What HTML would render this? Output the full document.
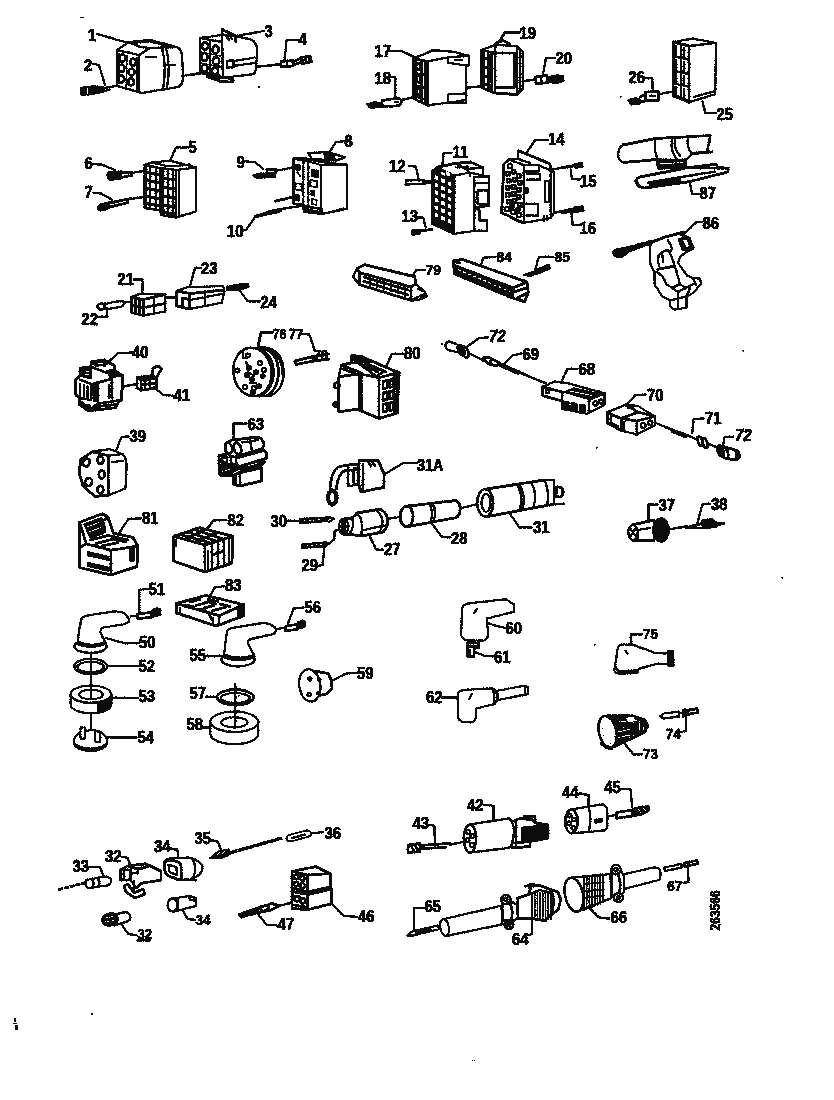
<!DOCTYPE html>
<html><head><meta charset="utf-8"><title>Connectors</title>
<style>
html,body{margin:0;padding:0;background:#fff;}
body{width:834px;height:1100px;overflow:hidden;font-family:"Liberation Sans",sans-serif;}
svg{display:block;position:absolute;left:0;top:0;}
svg text{font-family:"Liberation Sans",sans-serif;font-size:16.5px;font-weight:bold;fill:#111;stroke:#111;stroke-width:0.6;}

.s{fill:none;stroke:#111;stroke-width:2.1;stroke-linejoin:round;stroke-linecap:round;}
.t{fill:none;stroke:#111;stroke-width:1.2;stroke-linejoin:round;stroke-linecap:round;}
.h{fill:none;stroke:#111;stroke-width:2.5;stroke-linejoin:round;stroke-linecap:round;}
.w{fill:#fff;stroke:#111;stroke-width:2.05;stroke-linejoin:round;stroke-linecap:round;}
.k{fill:#111;stroke:#111;stroke-width:1;stroke-linejoin:round;}
.g{fill:#777;stroke:#111;stroke-width:1;}
</style></head><body>
<svg width="834" height="1100" viewBox="0 0 834 1100">
<g filter="url(#bl)">
<rect x="0" y="0" width="834" height="1100" fill="#fff"/>
<!-- 01.svg -->
<g id="p1">
<text transform="translate(88,40.5) scale(0.9,1)">1</text>
<path class="s" d="M97 34 L132 44"/>
<!-- body -->
<path class="w" d="M117 50 L129 42 L150 40 L177 47 Q182 50 182 56 L183 78 Q182 86 178 87 L142 93 L117 86 Z"/>
<path class="s" d="M117 50 L139 55 L139 92 M139 55 L150 48 L177 47 M129 42 L140 47 L150 48 M162 48 Q167 66 163 89 M166 48 Q171 66 167 88 M146 57 L156 57 M166 65 L175 65"/>
<path class="h" d="M130 43 L150 41 L172 47"/>
<!-- holes -->
<g class="h"><ellipse cx="122.5" cy="58" rx="3" ry="3.6"/><ellipse cx="133" cy="62" rx="3" ry="3.6"/><ellipse cx="121.5" cy="68" rx="3" ry="3.6"/><ellipse cx="131.5" cy="72" rx="3" ry="3.6"/><ellipse cx="121" cy="79" rx="3.2" ry="3.6"/><ellipse cx="131" cy="82" rx="3" ry="3.4"/></g>
<path class="t" d="M119 53 L119 84 M127 55 L126 88 M137 57 L137 90"/>
<!-- terminal 2 -->
<text transform="translate(84,71) scale(0.9,1)">2</text>
<path class="s" d="M93 64 L99 65 L105 85"/>
<path class="k" d="M80.500 87.500 L92 86 L104 86.500 L104.500 91.500 L92 94.500 L81 95.500 Z"/>
<path d="M84 88 L84 94.500 M87.500 87.500 L87.500 94 M91 87.500 L91 93.500" stroke="#fff" stroke-width="0.900" fill="none"/>
<path class="s" d="M104 88 L117 86 M100 92.500 L110 89.500"/>
<path class="s" d="M182 76 L200 73"/>
</g>

<!-- 03.svg -->
<g id="p3">
<text transform="translate(264.5,36.5) scale(0.9,1)">3</text>
<path class="s" d="M264 31 L236 36"/>
<path class="w" d="M200 38 L222 35 L236 36 L252 40 Q257 43 257 50 L256 70 L254 74 L222 78 L200 73 Z"/>
<path class="h" d="M222 29.5 L235 35.5 L236 42 M222 29.5 L222 35"/>
<path class="s" d="M226 36 L229 40 M229 34 L232 39"/>
<path class="s" d="M222 35 L223 78 M200 38 L222 42"/>
<g class="h"><ellipse cx="205" cy="46" rx="3" ry="4"/><ellipse cx="215.5" cy="49.5" rx="3" ry="4"/><ellipse cx="204.5" cy="57" rx="3" ry="4"/><ellipse cx="216" cy="61" rx="3.2" ry="4"/><ellipse cx="204.5" cy="68" rx="3" ry="3.6"/><ellipse cx="215" cy="71" rx="3" ry="3.6"/></g>
<path class="t" d="M210 40 L210 75 M201 52 L221 56 M201 63 L221 67"/>
<path class="h" d="M202 72 L220 76 M214 66 L221 67"/>
<path class="h" d="M227 61 L233.5 60.5 L233.5 67 L227 67.5 Z"/>
<path class="s" d="M233.5 61.3 L254 57.5 M233.5 66 L254 63"/>
<path class="h" d="M207 76.5 L233 78.5 L233 82 L221 81.5 Z"/>
<path class="s" d="M190 75.3 L200 73.8 M257 66.8 L280 64.4"/>
<!-- terminal 4 -->
<text transform="translate(298.5,45) scale(0.9,1)">4</text>
<path class="s" d="M299 40 L286.6 40 L284.3 62"/>
<path class="h" d="M281 61.5 L293 60.5 L293 66 L281 67 Z"/>
<path class="s" d="M287 61 L287 66.5"/>
<path class="h" d="M293 62 L301 58 M293 65 L302 62"/>
<path class="k" d="M300 57 L311 55.5 L312.5 62.5 L301 64.5 Z"/>
<path d="M304 58 L304 62 M307.5 57.5 L307.5 61.5" stroke="#fff" stroke-width="1" fill="none"/>
</g>

<!-- 05.svg -->
<g id="p5">
<text transform="translate(188.5,153) scale(0.9,1)">5</text>
<path class="s" d="M188.5 147.5 L176 147.5 L170 160.5"/>
<path class="w" d="M144.5 165 L152 162.5 L170 160.8 L196 167.5 L196 211.5 L176 217.5 L161 215 L160.5 210.5 L144.5 208 Z"/>
<path class="s" d="M144.5 165 L160.5 168 L176 170 L196 167.5 M176 170 L176 217.5 M160.5 168 L160.5 211 M152 162.5 L165 165.5 L176 166 L190 164.5 M165 165.5 L165 168.5"/>
<path class="h" d="M146 166 L146 207 M150 167 L150 208 M156 168 L156 210 M163 169 L163 214 M168 170 L168 216 M173 170 L173 217"/>
<path class="h" d="M145 172 L160 175 M145 180 L160 183 M145 188 L160 191 M145 196 L160 199 M145 203 L160 206 M161 178 L176 180 M161 187 L176 189 M161 196 L176 198 M161 205 L176 207 M161 212 L176 214"/>
<path class="s" d="M179 172 L179 215"/>
<!-- 6 -->
<text transform="translate(84.5,168.5) scale(0.9,1)">6</text>
<path class="s" d="M93.4 163.8 L101 164.6 L115 170"/>
<path class="k" d="M107 174 Q107 171.500 112 171.500 L121.500 171 L121.500 179 L110 180.500 Q107 180 107 176 Z"/>
<path class="h" d="M121 173 L132 172 M121 177.5 L132 175.5"/>
<path class="s" d="M132 173 L144.500 170.800"/>
<!-- 7 -->
<text transform="translate(84.5,198) scale(0.9,1)">7</text>
<path class="s" d="M93.4 192.700 L101 193.500 L112 199.700"/>
<path class="k" d="M97 207 Q98 204 103 203.500 L109 202 L110 208 L102 211 Q97 211.500 97 207 Z"/>
<path class="h" d="M109 203 L131 198.500 M110 207 L128 202.500"/>
<path class="s" d="M131 199 L144.500 196.600"/>
</g>

<!-- 08.svg -->
<g id="p8">
<text transform="translate(344.5,147) scale(0.9,1)">8</text>
<path class="s" d="M345 141.300 L335.600 142 L329.500 152.600"/>
<path class="w" d="M293.500 158.500 L303.400 158 L321 162 L347 164.700 L347 208.700 L322 214 L304 212 L303.400 205 L293.500 203.500 Z"/>
<path class="s" style="stroke-width:1.800" d="M293.500 158.500 L293.500 203.500 L303.400 205 M303.400 160 L303.400 206 M308.400 161 L308.400 210 M321 165 L321 213 M293.500 158.500 L308 161.500 L321 165 L347 164.700 L347 208.700 L322 214"/>
<path class="h" d="M308 153 L328 152 L345 157.500 L336 160.500 L312 159 Z" style="stroke-width:2.200"/>
<path class="k" d="M324 152 L333 153.500 L336 160.500 L325 161 Z"/>
<path class="k" d="M294.500 164 L300 165 L300 170.500 L294.500 169.500 Z M294 194 L299.500 195 L299.500 201 L294 200 Z M311.500 169.500 L318.500 170.500 L318.500 177.500 L311.500 176.500 Z M311 190 L314.700 190.800 L314.700 196 L311 195.200 Z"/>
<path class="s" style="stroke-width:1.600" d="M295.500 183 L301.500 184 L301.500 190.500 L295.500 189.500 Z M310.600 180 L317 181 L317 187.200 L310.600 186.200 Z M312 199 L316.500 200 L316.500 205 L312 204 Z M297 172 L300 176"/>
<path class="k" d="M303.500 205.500 L322.500 208.500 L322.500 214 L304 212 Z"/>
<path d="M309 208.800 L319 210.200" stroke="#fff" stroke-width="1" fill="none"/>
<path class="s" d="M334 211.500 L344 208.500"/>
<!-- 9 -->
<text transform="translate(236.500,167.500) scale(0.9,1)">9</text>
<path class="s" d="M245.200 161.300 L254.800 162.200 L263.500 169"/>
<path class="k" d="M252.500 175 L260 173 L275.500 173.500 L275.500 177 L256 178.500 Z"/>
<path class="h" d="M267 169.500 L275.500 169 L275.500 173 L267 173.500 Z"/>
<path class="s" d="M275.500 171 L293 167.400"/>
<!-- mid wire -->
<path class="h" d="M275.600 201.300 L293 197"/>
<!-- 10 -->
<text transform="translate(227,237) scale(0.9,1)">10</text>
<path class="s" d="M241.700 230.800 L246 230 L255.600 216"/>
<path class="s" d="M255.600 216 L270 212 M281 209 L303.400 205.600"/>
<path class="k" d="M266 211.500 L281 208.500 L282 211.500 L268 215 Z"/>
<path class="h" d="M257 216.500 L268 213.500"/>
</g>

<!-- 11.svg -->
<g id="p11">
<text transform="translate(452.5,157.700) scale(0.9,1)">11</text>
<path class="s" d="M451.700 152.700 L443.500 153.300 L442.200 167"/>
<path class="w" d="M432 171 L438 167 L455.400 163.400 L470.500 162 L483 167.800 L483 176 L489 176.600 L489 205.500 L474.300 208 L479.400 210.600 L479.400 220.600 L487 220.600 L487 230.700 L474.300 230.700 L454 234 L432 223.500 Z"/>
<path class="k" d="M432 171 L438 167 L444 170 L455 175.500 L454.500 233.500 L432 223.500 Z"/>
<g fill="#fff" stroke="none">
<path d="M434.500 175 l4 1.500 v4 l-4 -1.500z M441 178 l4 1.500 v4 l-4 -1.500z M447.500 181 l4 1.500 v4 l-4 -1.500z"/>
<path d="M434.500 182.500 l4 1.500 v4 l-4 -1.500z M441 185.500 l4 1.500 v4 l-4 -1.500z M447.500 188.500 l4 1.500 v4 l-4 -1.500z"/>
<path d="M434.500 190 l4 1.500 v4 l-4 -1.500z M441 193 l4 1.500 v4 l-4 -1.500z M447.500 196 l4 1.500 v4 l-4 -1.500z"/>
<path d="M434.500 197.500 l4 1.500 v4 l-4 -1.500z M441 200.500 l4 1.500 v4 l-4 -1.500z M447.500 203.500 l4 1.500 v4 l-4 -1.500z"/>
<path d="M434.500 205 l4 1.500 v4 l-4 -1.500z M441 208 l4 1.500 v4 l-4 -1.500z M447.500 211 l4 1.500 v4 l-4 -1.500z"/>
<path d="M434.500 212.500 l4 1.500 v4 l-4 -1.500z M441 215.500 l4 1.500 v4 l-4 -1.500z M447.500 218.500 l4 1.500 v4 l-4 -1.500z"/>
<path d="M441 171.500 l4 1.500 v3 l-4 -1.500z M446 171 l4 2 v3.500 l-4 -1.500z"/>
</g>
<path class="s" d="M455 175.500 L470 172.500 L483 175.500 M455.400 163.400 L466 169 L470 172.500 M466 169 L483 167.800 M470 172.500 L470 176 M456 167.500 L468 166.500 M474.300 177 L474.300 230.700 M474.300 177 L489 176.600 M477.500 190.400 L488 190.400 L488 204.300 L477.500 204.300 Z M475 183 L489 183"/>
<path class="h" d="M438 167 L455.400 163.400 L470.500 162 M474.300 208 L489 205.500 M479.400 210.600 L479.400 220.600 L487 220.600"/>
<!-- 12 -->
<text transform="translate(389,171.500) scale(0.9,1)">12</text>
<path class="s" d="M409.500 165.900 L415.800 166.500 L419 180.400"/>
<path class="s" d="M405.700 180.400 L420 180 L432 181.500 M405.700 184.500 L420 184 L432 182.500 M405.700 180.400 L405.700 184.500"/>
<!-- 13 -->
<text transform="translate(401.500,222) scale(0.9,1)">13</text>
<path class="s" d="M416.400 217.500 L423.300 217.500 L425.800 227.600"/>
<path class="k" d="M412 230 L420 229.500 L420 234.500 L412 235 Z"/>
<path class="h" d="M420 231 L432 229.500"/>
</g>

<!-- 14.svg -->
<g id="p14">
<text transform="translate(548,145) scale(0.9,1)">14</text>
<path class="s" d="M548.600 139.700 L535.500 139.700 L526.500 152.800"/>
<path class="w" d="M503.800 164.500 L509 159.500 L518 159 L518.300 150.700 L550 163.800 L550.700 171.400 L554 171.400 L554 212.700 L550.700 218 L523 223 L501.700 212.700 Z"/>
<path class="h" d="M518.300 150.700 L550 163.800 L550.700 171.400"/>
<path class="s" d="M523.800 165 L523.800 223 M509 159.500 L523.800 165 M523.800 165 L539 165 L539 171.400 L523.800 171.400 M527 174 L540 174 L540 179.600 L527 179.600 M545 181 L549.300 181 L549.300 201.700 L545 201.700 Z M525.900 203.800 L538 203.800 L538 215.500 L525.900 215.500 M543.800 216 L543.800 221 M547 216 L547 220.500 M550.700 171.400 L550.700 218 M518 159 L530 163 M540 166 L550 170"/>
<path class="k" d="M523.800 188 L528 188 L528 193 L523.800 193 Z"/>
<g class="s">
<circle cx="510" cy="166" r="2.300"/><rect x="506" y="172" width="3.500" height="3.500"/><rect x="512" y="170" width="3.500" height="3.500"/><rect x="517" y="174" width="3.500" height="3.500"/>
<rect x="507" y="179" width="3.500" height="3.500"/><rect x="513" y="178" width="3.500" height="3.500"/><rect x="518" y="181" width="3.500" height="3.500"/>
<rect x="506" y="186" width="3.500" height="3.500"/><rect x="512" y="185" width="3.500" height="3.500"/><rect x="517" y="188" width="3.500" height="3.500"/>
<rect x="506" y="193" width="3.500" height="3.500"/><rect x="512" y="192" width="3.500" height="3.500"/><rect x="517" y="195" width="3.500" height="3.500"/>
<rect x="507" y="200" width="3.500" height="3.500"/><rect x="513" y="199" width="3.500" height="3.500"/><rect x="518" y="203" width="3.500" height="3.500"/>
<circle cx="507" cy="209" r="2.200"/><circle cx="513" cy="212" r="2.200"/><circle cx="519" cy="215" r="2.200"/><circle cx="512" cy="206" r="1.800"/><circle cx="518" cy="209.500" r="1.800"/>
</g>
<path class="h" d="M503.800 164.500 L501.700 212.700 L523 223"/>
<!-- 15 -->
<text transform="translate(580,186.500) scale(0.9,1)">15</text>
<path class="s" d="M570.700 169.300 L572 179 L579.600 179.600"/>
<path class="s" d="M552.700 169.300 L573 166.500"/>
<path class="h" d="M562 167.500 L574 165.500"/>
<path class="k" d="M574.500 163.500 L582.500 162.500 L583 167 L575 168.500 Z"/>
<!-- 16 -->
<text transform="translate(579.500,234) scale(0.9,1)">16</text>
<path class="s" d="M571.400 212.700 L572.700 225 L579 225"/>
<path class="s" d="M554 212.700 L562 211"/>
<path class="h" d="M561.500 211.500 L575 208.500 M562 212.500 L583 210.500"/>
<path class="k" d="M574.500 206.500 L583.500 206 L583.800 211.500 L575 212 Z"/>
</g>

<!-- 17.svg -->
<g id="p17">
<text transform="translate(374.500,57) scale(0.9,1)">17</text>
<path class="s" d="M389.500 51 L401.400 51 L415 57.200"/>
<path class="w" d="M413.200 58.600 L433 50.300 L453.800 51.700 L469 55.900 L469 65.500 L466.200 65.500 L466.200 100 L427.600 105.500 L413.200 98.600 Z"/>
<path class="s" d="M413.200 58.600 L427.600 61.400 L427.600 105.500 M427.600 61.400 L448 57.200 L448 62.700 L466.200 65.500 M448 57.200 L469 55.900 M448 94.500 L466 93.500 L466 102.700 L448 103 Z M455 60 L462 60"/>
<path class="h" d="M415.500 60.500 L415.500 98.500 M421.500 61.500 L421.500 101.500 M425.500 62 L425.500 104"/>
<g class="h"><ellipse cx="418.500" cy="66.500" rx="2.300" ry="3.300"/><ellipse cx="418.500" cy="79" rx="2.300" ry="3.300"/><ellipse cx="418.500" cy="91.500" rx="2.300" ry="3.300"/></g>
<path class="s" d="M414 73 L427 75.500 M414 85.500 L427 88 M414 96 L427 100"/>
<path class="s" d="M466.200 87.600 L481.300 86.200"/>
<!-- 18 -->
<text transform="translate(374.500,83.500) scale(0.9,1)">18</text>
<path class="s" d="M389.500 77 L395.300 77 L395.300 98.600"/>
<path class="k" d="M366 104 L375 101.500 L381 103 L381 107 L370 108.500 Z"/>
<path class="h" d="M382 100.500 L395 98.500 Q402 98 401.500 102 Q401 106 395 106 L382 106.500 Z"/>
<path class="s" d="M395 102 L398 102 M401.400 100 L413.200 97.200"/>
</g>

<!-- 19.svg -->
<g id="p19">
<text transform="translate(519.500,39.300) scale(0.9,1)">19</text>
<path class="h" d="M519.400 32.400 L504.800 32.400 L499.300 42"/>
<path class="w" d="M481.300 50.300 L495 44.800 L517 46.200 L522.700 51.700 L522.700 89 L517 94.500 L495 93 L481.300 87.600 Z"/>
<path class="h" d="M495 53 L514.400 53 L514.400 87.600 L495 87.600 Z M495 44.800 L495 93"/>
<path class="s" d="M481.300 50.300 L495 53 M517 46.200 L517 94.500 M519.800 49 L519.800 91.800 M483.500 52 L483.500 88 M488.500 53 L488.500 90 M491.500 53.500 L491.500 91.500"/>
<path class="h" d="M484 58 L491 59.500 M484 67 L491 68.500 M484 76 L491 77.500 M484 84 L491 86 M496 43 L503 40.500 L510 44"/>
<path class="h" d="M482 87.600 L495 93 L517 94.500"/>
<path class="s" d="M522.700 81.200 L535 79.300"/>
<!-- 20 -->
<text transform="translate(555.500,64) scale(0.9,1)">20</text>
<path class="s" d="M555.300 57.800 L546 57.800 L542.600 76.500"/>
<path class="h" d="M535.500 77 L547 75.500 L547.500 82.500 L536 84 Z"/>
<path class="s" d="M541 76.500 L541.500 83"/>
<path class="k" d="M547 77 L556 75 L563.500 75.500 L564 81 L556 84 L547.500 82 Z"/>
</g>

<!-- 21.svg -->
<g id="p21">
<text transform="translate(117.500,284.600) scale(0.9,1)">21</text>
<path class="s" d="M133.800 279.500 L142.500 279.500 L142.500 293.700"/>
<path class="w" d="M131.700 297 L140 293.700 L165.200 294.500 L165.200 311.500 L143.300 315.600 L131.700 312.500 Z"/>
<path class="h" d="M131.700 297 L143.300 299.500 L143.300 315.600 M131.700 297 L131.700 312.500 L143.300 315.600 M143.300 299.500 L165.200 294.500 M143.300 307.500 L165.200 303.500 M135.500 299 L135.500 313 M139.500 300 L139.500 314 M132 305 L143 307.500"/>
<path class="s" d="M154 297.500 L154 313"/>
<path class="h" d="M165.200 297.500 L176.800 297.500"/>
<!-- 22 -->
<text transform="translate(81.500,325) scale(0.9,1)">22</text>
<path class="s" d="M98.200 316.900 L107.200 316.900 L107.200 307.800"/>
<path class="s" d="M104 304 L120 301 L125.500 302 L122 306.500 L106 309.500 Z M125.500 302 L131.700 302"/>
<ellipse class="h" cx="101" cy="306.500" rx="3.500" ry="3"/>
<!-- 23 -->
<text transform="translate(201,274.300) scale(0.9,1)">23</text>
<path class="s" d="M200.800 267.900 L194.900 267.900 L189.700 287.200"/>
<path class="w" d="M176.800 291 L187 287.200 L223.200 286 L224.500 291 L222 302.700 L189.700 309 L176.800 306 Z"/>
<path class="h" d="M176.800 291 L189.700 293.500 L189.700 309 M176.800 291 L176.800 306 L189.700 309 M189.700 293.500 L224 290 M182.500 298 L189 299.500 M182.500 298 L182.500 307"/>
<path class="s" d="M189.700 300 L223.200 293.700 M205 291.500 L205 306"/>
<!-- 24 -->
<text transform="translate(260.500,307.800) scale(0.9,1)">24</text>
<path class="s" d="M240 291 L247.700 301.400 L260 301.400"/>
<path class="k" d="M226 286.500 L236 284.500 L248.500 283.500 L249 287.500 L237 290.500 L226.500 290.500 Z"/>
</g>

<!-- 25.svg -->
<g id="p25">
<path class="w" d="M673.800 42 L692.700 38.500 L716 43 L715.200 94.200 L689 102.300 L673 96 Z"/>
<path class="h" d="M673.800 42 L689 46 L689 102.300 M673.500 42 L673 96"/>
<path class="s" d="M689 46 L716 43 M681 44.500 L681 99 M674 56.500 L689 59.500 M674 70.900 L689 73.900 M674 83.500 L689 86.500 M694 97 L715 91"/>
<path class="h" d="M676 46 L676 55 M684 48 L684 58 M676 60 L676 69 M684 62 L684 72 M676 74 L676 82 M684 76 L684 85 M676 87 L676 95 M684 89 L684 99 M675 95.500 L688 101"/>
<text transform="translate(716.500,120.300) scale(0.9,1)">25</text>
<path class="s" d="M716 113 L705.300 113 L702.600 101.400"/>
<text transform="translate(628.500,82.600) scale(0.9,1)">26</text>
<path class="s" d="M645 78 L652.300 78.400 L652.600 91.500"/>
<path class="k" d="M627.500 100 L636 97.500 L640 99 L640 104 L631 105 Z"/>
<path class="h" d="M640 97 L646 94 M640 102.500 L646 100.500 M645.500 92 L658.600 91.500 L658.600 100.500 L645.500 101 Z M650 96 L655 96"/>
<path class="s" d="M658.600 94.200 L673 91.500"/>
</g>

<!-- 27.svg -->
<g id="p27">
<!-- 30 -->
<text transform="translate(270.500,526.500) scale(0.9,1)">30</text>
<path class="s" d="M286 520.800 L300 520.800"/>
<path class="k" d="M299.500 518.500 L326 517 L330 518 L327 521.500 L299.500 523.500 Z"/>
<path d="M304 521 L322 519.500" stroke="#fff" stroke-width="1" stroke-dasharray="2.500 2" fill="none"/>
<path class="s" d="M327 517 L334 518.500 L329 522"/>
<!-- 29 -->
<text transform="translate(301.500,570.600) scale(0.9,1)">29</text>
<path class="s" d="M317.800 565.900 L322.500 564.900 L324.500 546.700"/>
<path class="k" d="M301.500 544 L326 542 L330 543 L327 546.500 L301.500 548.500 Z"/>
<path d="M306 546 L322 544.500" stroke="#fff" stroke-width="1" stroke-dasharray="2.500 2" fill="none"/>
<path class="s" d="M330.200 542.800 L334.400 539 L334.400 531.300 L338.900 529.400"/>
<!-- 27 -->
<text transform="translate(384,555.300) scale(0.9,1)">27</text>
<path class="s" d="M383 549.600 L376.300 549.600 L369.600 536"/>
<path class="w" d="M357 513 L380 509.300 Q388 513 387.800 521.700 Q387 530 382 532.300 L361 536 L349.400 534.200 L343 534 L343 519 L352 518 Z"/>
<path class="h" d="M343.500 519 L352 518 L357 513 L380 509.300 Q388 513 387.800 521.700 Q387 530 382 532.300 L361 536 L349.400 534.200 L343.500 534.200"/>
<path class="s" d="M376 510 Q383 516 382.500 523 Q382 530 378 533 M357 513 Q364 520 361 536 M362 530.500 L387 525 M352 518 Q355 526 349.400 534.200"/>
<ellipse class="w" cx="343.700" cy="526.500" rx="4.800" ry="7.700" style="stroke-width:2"/>
<path class="s" d="M341 521 L346 532 M346 521 L341 532 M339.500 526.500 L348 526.500 M343.700 519.500 L343.700 533.500"/>
<path class="s" d="M387.800 518.900 L399.300 517"/>
</g>

<!-- 28.svg -->
<g id="p28">
<text transform="translate(451,543.900) scale(0.9,1)">28</text>
<path class="s" d="M450.600 537.500 L442 537 L431.700 523.400"/>
<path class="w" d="M406.600 506.300 L455.600 500.600 Q460.200 502 460.200 509 Q460.200 516 455.600 517.700 L406.600 526.800 Z"/>
<path class="h" d="M406.600 506.300 L455.600 500.600 Q460.200 502 460.200 509 Q460.200 516 455.600 517.700 L406.600 526.800"/>
<path class="s" d="M429.500 503.500 Q434 512 430.500 522.500 M432.500 503.200 Q437 512 433.500 522"/>
<ellipse class="w" cx="406.600" cy="516.500" rx="6.500" ry="10.300" style="stroke-width:2.600"/>
<path class="s" d="M460.200 508.500 L477.300 504"/>
<!-- 31 -->
<text transform="translate(533,532.500) scale(0.9,1)">31</text>
<path class="s" d="M532 527.500 L519.400 527.500 L510.300 514.200"/>
<path class="w" d="M485.200 489.200 L544.500 480 L554 480 L554 504 L487.500 516.500 Z"/>
<path class="h" d="M485.200 489.200 L544.500 480 M487.500 516.500 L549 505"/>
<path class="s" d="M544.500 480 L554 480 L554 504.500 L564 503.500 M549 505 L564 503.500 M517 484.500 Q524 496 519.500 510.500 M519.500 484 Q526.500 496 522 510 M531 482 Q538 494 533.500 508 M544.500 480 Q550 492 547 505.500"/>
<ellipse class="w" cx="485.200" cy="502.800" rx="8" ry="13.700" style="stroke-width:2.400"/>
<ellipse class="s" cx="486" cy="502.800" rx="4.500" ry="9"/>
<text transform="translate(554,498) scale(0.9,1)">D</text>
</g>

<!-- 31a.svg -->
<g id="p31a">
<text transform="translate(417,471) scale(0.9,1)" style="font-size:16px">31A</text>
<path class="s" d="M384 474.700 L403 463.200 L416.600 463.200"/>
<path class="w" d="M359 460.300 L378.200 460.300 L384 473.800 L384 487.200 L361 492 L359 485 Z"/>
<path class="h" d="M359 460.300 L378.200 460.300 L384 473.800 L384 487.200 L361 492 L359 485 Z M363 464 L363 491.500 M368 461.500 L371 466 M372 461.500 L375 466"/>
<path class="h" d="M359 464.500 L347.500 465 L338 467 Q331 472 330 489 M359 469.500 L345 470.500 Q337.500 474 336.500 489"/>
<path class="h" d="M348 467 L348 486 L352 486 M353 470 Q355 466 358 470 L358 484 L354 485 Z"/>
<ellipse class="k" cx="332.300" cy="497.500" rx="5.800" ry="8.600"/>
<ellipse cx="332.300" cy="497.500" rx="2.200" ry="4.500" fill="#fff"/>
</g>

<!-- 32.svg -->
<g id="p32">
<!-- 33 -->
<text transform="translate(72.500,872) scale(0.9,1)">33</text>
<path class="s" d="M88.700 866.900 L100 867.300 L104 877"/>
<path d="M58.200 889.800 L86 882.500" stroke="#111" stroke-width="2.400" fill="none" stroke-dasharray="5 1"/>
<path class="w" d="M86 880 L104 876.500 Q111.500 877 111.200 881.500 Q110.500 885.500 104 886 L88 888 Q84.500 886 86 880 Z" style="stroke-width:2"/>
<path class="h" d="M92 879 Q94.500 883 92.500 887.500 M98 878 Q100.500 882 98.500 886.500"/>
<!-- 32 top -->
<text transform="translate(105,861.800) scale(0.9,1)">32</text>
<path class="s" d="M121.300 856.700 L127.500 857.700 L130.500 865.900"/>
<path class="w" d="M127.500 865.900 L145.800 863.800 L161 871 L161 880 L141.700 883.200 L136 887.500 L130.500 880 L120.300 880 L120.300 870 Z"/>
<path class="h" d="M127.500 865.900 L145.800 863.800 L161 871 L161 880 L141.700 883.200 L136 888 M120.300 870 L130.500 870 L130.500 880 L120.300 880 Z M124 872.500 L124 878 M127.500 865.900 L138 869 L148 866.500 M138 869 L138 873 L131 873"/>
<path class="h" d="M124 886 L128 884 L134 893 L143 889 L145 894 L135 898 L126 892 Z M134 881 L134 892"/>
<!-- 34 top -->
<text transform="translate(154,851.600) scale(0.9,1)">34</text>
<path class="s" d="M170.300 848.500 L177.400 849.600 L178.400 857.700"/>
<path class="w" d="M164 863 Q165 859 170 858.500 L188 857.500 Q200 860 202.500 866 Q203 872 197.500 876 L190 879.500 L180 880 L167 875.500 Q163 870 164 863 Z" style="stroke-width:2"/>
<path class="h" d="M165 862 Q166 860 170 860 L178 862 Q181 863 181 866 L181.500 877 Q181 880 178 879.500 L168 875.500 Q164.500 873 164.500 869 Z"/>
<path class="s" d="M168.500 865 L176.500 867 L177 875 L169.500 872 Z M192 859 Q198 866 193 878 M185 879.500 L196 880.500"/>
<!-- 34 lower -->
<text transform="translate(195.500,925) scale(0.9,1)" style="font-size:14.8px">34</text>
<path class="s" d="M194.700 919.900 L187.600 918.900 L182.500 909.700"/>
<path class="w" d="M172 898.500 L190 896 L195.700 898 L195.700 906 L174 911.500 Z" style="stroke-width:2"/>
<path class="h" d="M190 896 L190 900 L195 900"/>
<ellipse class="w" cx="172.500" cy="905" rx="4.800" ry="6.500" style="stroke-width:2.200"/>
<path class="s" d="M178 900 L178 910"/>
<!-- 32 lower -->
<text transform="translate(137.500,939.200) scale(0.9,1)" style="font-size:14.3px">32</text>
<path class="s" d="M137.500 940.500 L150 940.500"/>
<path class="s" d="M136.600 935.200 L128.500 934.100 L120.300 923"/>
<path class="w" d="M112 915 L126 912 Q131 914 130.500 918 Q130 921 126 922 L114 925.500 Z" style="stroke-width:2"/>
<ellipse class="k" cx="110" cy="919.500" rx="8.500" ry="6.500" transform="rotate(-15 110 919.500)"/>
<path d="M105 918 L115 916 M105 922 L115 920" stroke="#fff" stroke-width="0.900" fill="none"/>
</g>

<!-- 35.svg -->
<g id="p35">
<text transform="translate(194.500,843.800) scale(0.9,1)">35</text>
<path class="s" d="M210.400 840.200 L217.600 841.400 L221.200 849.800"/>
<path class="k" d="M209.500 858 L218 851 L229 849 L231 854 L222 858.500 Z"/>
<path d="M217 855.500 L220 851.500 M222 854.500 L225 850.500" stroke="#fff" stroke-width="1" fill="none"/>
<path d="M230.800 852.500 L282.300 838" stroke="#111" stroke-width="3.200" fill="none"/>
<path d="M236 851 L280 838.600" stroke="#fff" stroke-width="0.600" stroke-dasharray="4 3" fill="none"/>
<!-- 36 -->
<text transform="translate(324.500,839) scale(0.9,1)">36</text>
<path class="s" d="M311 833 L323 832.300"/>
<path class="w" d="M289 835 L307 830.500 Q311.500 831 311 834 Q310.500 836.500 307 837 L291 841.500 Q286 841 286.500 838 Q287 836 289 835 Z" style="stroke-width:1.800"/>
<path class="s" d="M292 838 L305 834.500"/>
<!-- 46 -->
<text transform="translate(358,921.700) scale(0.9,1)">46</text>
<path class="s" d="M356.700 916.900 L343.500 915.700 L331.500 903.700"/>
<path class="w" d="M292 871.400 L316 866.600 L330.300 873.800 L330.300 887 L331.500 889.300 L331.500 903.700 L307.500 909.700 L292 908.500 Z"/>
<path class="h" d="M292 871.400 L316 866.600 L330.300 873.800 L330.300 887 L307.500 891.700 M292 871.400 L307.500 875 L330.300 873.800 M307.500 875 L307.500 909.700 M292 871.400 L292 908.500 L307.500 909.700 L331.500 903.700 L331.500 889.300 L307.500 894.500 M292 888 L307.500 891.700 M292 891.500 L307.500 894.500"/>
<g class="s"><circle cx="296.500" cy="877" r="2.300"/><circle cx="302.500" cy="878.500" r="2.300"/><circle cx="296.500" cy="884" r="2.300"/><circle cx="302.500" cy="885.500" r="2.300"/><circle cx="297" cy="899" r="2.600"/><circle cx="303" cy="901" r="2.600"/></g>
<path class="h" d="M293 896 L300 897 M294 905 L306 907"/>
<!-- 47 -->
<text transform="translate(277.500,930) scale(0.9,1)">47</text>
<path class="s" d="M276.300 925.300 L266.700 924.800 L258.300 914.500"/>
<path class="s" d="M278.700 906 L292 902.500"/>
<path class="h" d="M239.200 914.500 L258 908 L272 903.500 L278.700 905.600 L272 910 L258 912.500 L241 917 Z M258 908 Q262 905 268 906 Q270 909 264 911 Z"/>
<path class="s" d="M241 915.500 L258 910.500"/>
</g>

<!-- 37.svg -->
<g id="p37">
<text transform="translate(658.500,510.700) scale(0.9,1)">37</text>
<path class="s" d="M657.900 504.500 L648.500 504.500 L648.500 520"/>
<path class="w" d="M633 524.700 L654 520 L654 540.300 L633 540.300 Z"/>
<path class="h" d="M633 524.700 L654 520 M633 540.300 L654 540.500"/>
<ellipse class="k" cx="661" cy="530" rx="8.300" ry="12.200"/>
<path d="M657 520 L657 540 M661 518.500 L661 541.500 M665 520 L665 540" stroke="#fff" stroke-width="0.700" fill="none"/>
<ellipse class="w" cx="633" cy="532.500" rx="4.700" ry="7.800" style="stroke-width:2"/>
<path class="s" d="M630 528 L636 537 M636 528 L630 537 M638 530 L650 528 M638 530 L638 538"/>
<path class="s" d="M669.500 529.400 L686.700 526.300"/>
<!-- 38 -->
<text transform="translate(711,510) scale(0.9,1)">38</text>
<path class="s" d="M710 503.700 L702.300 504.500 L697.600 522.400"/>
<path class="h" d="M686 527.500 L700 524 L724 523.500 M686 527.500 L702 528 L716 526.500"/>
<path class="k" d="M702 520 L712 518.500 L716 522 L724 524 L716 526.300 L702 526 Z"/>
</g>

<!-- 39.svg -->
<g id="p39">
<text transform="translate(129.500,442.400) scale(0.9,1)">39</text>
<path class="s" d="M128.600 436.400 L121.500 437.200 L116.200 450.300"/>
<path class="w" d="M80.600 459.600 L92.400 451.700 L109.600 449 L122.800 454.300 Q126.700 458 126.700 467.500 L125.400 488.600 L108.300 495.200 L95 496.500 L83.200 486 L79.200 472.800 Z"/>
<path class="h" d="M80.600 459.600 L92.400 451.700 L108.300 455.600 L108.300 495.200 L95 496.500 L83.200 486 L79.200 472.800 Z"/>
<path class="s" d="M108.300 455.600 L122.800 454.300 M112 462 L123 461"/>
<g class="h"><ellipse cx="86.400" cy="462.500" rx="3.300" ry="4" transform="rotate(25 86.400 462.500)"/><ellipse cx="100.300" cy="460" rx="3" ry="4"/><ellipse cx="101.700" cy="474.500" rx="3" ry="4"/><ellipse cx="88.500" cy="482" rx="3.300" ry="4" transform="rotate(25 88.500 482)"/><ellipse cx="100.300" cy="489.500" rx="3" ry="3.800"/></g>
</g>

<!-- 40.svg -->
<g id="p40">
<text transform="translate(132,358.400) scale(0.9,1)">40</text>
<path class="s" d="M132.400 352.500 L118.300 353 L108.200 362.300"/>
<path class="w" d="M80 368.300 L91 366.800 L91 361.700 L104.300 360 L114.400 365.600 L114.400 370 L123 375.700 L121.400 399.900 L117.500 403.800 L116 407.700 L88 410.800 L79.400 404.600 L79.400 398.300 L75.500 394.400 L75.500 380 L80 375.700 Z"/>
<path class="h" d="M80 368.300 L91 366.800 L91 361.700 L104.300 360 L114.400 365.600 M80 368.300 L80 375.700 L75.500 380 L75.500 394.400 L79.400 398.300 L79.400 404.600 L88 410.800 L116 407.700 L117.500 403.800"/>
<path class="k" d="M81 370 L91 368.500 L91.500 379 L81 376.500 Z M92 363 L104 361.500 L108 364 L96 366.500 Z M106.600 370.500 L114 369 L123 375.700 L110 378 Z"/>
<path d="M84 372 L89 371.500 M84 375 L89 374.500 M98 363.500 L103 363" stroke="#fff" stroke-width="1.200" fill="none"/>
<path class="h" d="M91 366.800 L106.600 372.600 L123 375.700 L121.400 399.900 L98 403.800 L98 384 M80 379.600 L91.800 384.300 L91 400 M97.300 382.700 L112 378.800 L112 398.300 M109 385 L109 398.300 M91.800 384.300 L97.300 382.700 M98 403.800 L88 410.800 M104.300 360 L104.300 366"/>
<path class="k" d="M93.400 384.500 L97.300 384 L97.300 401.400 L93.400 401.400 Z"/>
<path class="s" d="M80 384 L80 396 M84 385 L84 399 M87.500 386 L87.500 400 M80 398.300 L91 400 M82 404 L90 406 M98 406.500 L114 405"/>
<path class="h" d="M81 402 L89 408.500 L100 407.500 M104 405.500 L116 404.500"/>
<path class="s" d="M123.800 386.400 L137 384"/>
<!-- 41 -->
<text transform="translate(173.500,401.300) scale(0.9,1)">41</text>
<path class="s" d="M154.200 387.200 L163.500 395 L173.700 395.800"/>
<path class="h" d="M137 377.500 L152 375.500 L156.500 378 L156.500 388 L141 390.300 L137 388 Z M141 380 L141 390.300 M141 380 L156.500 378 M137 377.500 L141 380 M145 380 L145 389.500 M150 379 L150 389 M141 385 L156 383"/>
<path class="h" d="M152 375 L153 368 L158 366 L162 369 L159 373 L156.500 378"/>
</g>

<!-- 42.svg -->
<g id="p42">
<text transform="translate(467,810.500) scale(0.9,1)">42</text>
<path class="s" d="M484.200 805 L493.500 805.800 L493.500 821.400"/>
<path class="w" d="M507.500 823 L520 818.500 L532 819.500 L536 823 L548 825 L548 838 L530 841.500 L530 846.400 L512 848 Z"/>
<path class="h" d="M520 818.500 L532 819.500 L536 823 L548 825 L548 838 L530 841.500 L530 846.400 L512 848 M516 822 L516 846 M522 828 L548 825.500 M522 834 L548 831 M522 839.500 L548 837 M522 828 L522 839.500 M512 843 L530 841.500 M524 816.500 L535 816.500 L535 820"/>
<path class="k" d="M524 829.500 L546 827.500 L546 830 L524 832.500 Z M524 835.500 L546 833 L546 835.500 L524 838 Z"/>
<path class="w" d="M470 824.500 L509 818.300 Q514 822 513.800 832 Q513.500 843 509 848 L470 852.600 Z" style="stroke-width:2"/>
<ellipse class="w" cx="470" cy="838.600" rx="6.200" ry="14" style="stroke-width:2.400"/>
<g class="s"><circle cx="468" cy="832" r="2"/><circle cx="472.500" cy="836" r="2"/><circle cx="467.500" cy="840" r="2"/><circle cx="472" cy="845" r="2"/></g>
<!-- 43 -->
<text transform="translate(412.500,829.200) scale(0.9,1)">43</text>
<path class="s" d="M429.600 824.500 L434.300 826 L435 843.300"/>
<path class="h" d="M408 845 L420 843.500 L420 851.500 L408 852.500 Z M411 845 L414 852 M415 844.500 L418 851.500"/>
<path class="h" d="M420 845.500 L450 843.300 M420 849 L446 847"/>
<path class="s" d="M450 844.800 L464 841.700"/>
<!-- 44 -->
<text transform="translate(562,798) scale(0.9,1)">44</text>
<path class="s" d="M579.200 793.400 L588.600 795 L588.600 807.400"/>
<path class="w" d="M571.400 809.600 L602.600 804.300 Q607.500 806 607.300 812 L607.300 826 Q607 830.500 602.600 830.800 L571.400 833.300 Z" style="stroke-width:2"/>
<path class="s" d="M588.600 806.500 Q592 818 588.600 832"/>
<path class="k" d="M594.800 819.500 L602.600 818.300 L602.600 821.800 L594.800 823 Z"/>
<ellipse class="w" cx="571.400" cy="821.400" rx="6.200" ry="11.800" style="stroke-width:2.400"/>
<g class="s"><circle cx="569.500" cy="815.500" r="2"/><circle cx="574" cy="819.500" r="2"/><circle cx="569" cy="823.500" r="2"/><circle cx="573.500" cy="828" r="2"/></g>
<!-- 45 -->
<text transform="translate(604.200,793.400) scale(0.9,1)">45</text>
<path class="s" d="M621.300 788.700 L630.700 789.300 L632.200 807.400"/>
<path class="s" d="M607.300 816.800 L616.600 814.600"/>
<path class="h" d="M616.600 812.500 L632.200 810 L632.200 816 L616.600 818.300 Z"/>
<path class="k" d="M632.200 809 L640 806.500 L649 805.800 L649.400 811 L641 815.500 L632.200 816.500 Z"/>
<path d="M638 809 L641 813 M643 807.500 L646 811.500" stroke="#fff" stroke-width="0.900" fill="none"/>
</g>

<!-- 50.svg -->
<g id="p50">
<text transform="translate(139,648.400) scale(0.9,1)">50</text>
<path class="s" d="M138.400 643.200 L125.500 643.200 L105.600 638"/>
<ellipse class="w" cx="90.500" cy="646.500" rx="16.200" ry="6.500" style="stroke-width:2.200"/>
<path class="w" d="M78 641.500 L79 630 L81.400 619 Q83 616 87.500 615.600 L115 611.300 Q124 611.500 127.200 616.500 Q130 620 129 621.600 Q127 623.500 123.700 624.200 L102 627.700 Q100 629.500 100.400 632 L105 642 Q92 648 78 641.500 Z"/>
<path class="s" d="M76 643 Q90 650.500 106 643.500"/>
<!-- 51 -->
<text transform="translate(148.500,594.900) scale(0.9,1)">51</text>
<path class="s" d="M147.900 588.800 L139.300 589.700 L139.300 613.900"/>
<path class="s" d="M130.600 616.500 L138 615.500"/>
<path class="h" d="M137.600 614 L151.400 612.500 L151.400 617.500 L137.600 618.500 Z"/>
<path class="k" d="M151.400 610 L156 608 L160.500 608.500 L161 615 L156 616.500 L151.400 617 Z"/>
<!-- 52 -->
<text transform="translate(138.500,671.700) scale(0.9,1)">52</text>
<path class="s" d="M137.500 666 L107.300 666"/>
<ellipse class="w" cx="90.600" cy="666.500" rx="16.400" ry="7.800" style="stroke-width:2"/>
<ellipse class="s" cx="90.600" cy="667" rx="13.200" ry="5.300"/>
<!-- 53 -->
<text transform="translate(138.500,702) scale(0.9,1)">53</text>
<path class="h" d="M137.500 698 L111.600 698"/>
<path class="w" d="M70.600 694.200 L70.600 704.600 A20.400 8.600 0 0 0 111.400 704.600 L111.400 694.200 Z" style="stroke-width:2"/>
<path class="k" d="M98 702 L111.400 697 L111.400 705.500 Q108 711 98 712.500 Z"/>
<path d="M101 702.500 L101 711 M104 701.500 L104 710 M107 700.500 L107 708.500" stroke="#fff" stroke-width="0.800" fill="none"/>
<ellipse class="w" cx="91" cy="694.200" rx="20.400" ry="8.600" style="stroke-width:2"/>
<ellipse class="s" cx="91" cy="694.500" rx="12" ry="4.800" style="stroke-width:2"/>
<path class="s" d="M94 703 L98 703 L98 712"/>
<!-- 54 -->
<text transform="translate(137.500,742.600) scale(0.9,1)">54</text>
<path class="s" d="M136.700 737.400 L106.500 737.400"/>
<path class="w" d="M73.600 742 Q75 731 91 730 Q106 731 107.300 742 Q106 750 91 751 Q75 750 73.600 742 Z" style="stroke-width:2"/>
<path class="k" d="M73.600 742 Q80 748 91 748 Q102 748 107.300 742 Q106 750.500 91 751.500 Q75 750.500 73.600 742 Z"/>
<path class="w" d="M80.500 727.500 L84.900 727.500 L84.900 738.500 L80.500 738.500 Z M95.200 731.500 L100.400 731.500 L100.400 742 L95.200 742 Z" style="stroke-width:1.800"/>
<path class="s" d="M91 652.700 L91 698 M91 713 L91 728"/>
</g>

<!-- 55.svg -->
<g id="p55">
<text transform="translate(189.500,660.600) scale(0.9,1)">55</text>
<path class="h" d="M206.800 656 L222 656"/>
<ellipse class="w" cx="238" cy="659.500" rx="16.700" ry="6.800" style="stroke-width:2.200"/>
<path class="w" d="M224.100 654.500 L225.500 642 L227.200 631 Q228.500 628.500 232.300 628 L262.800 622.900 Q272 623 276 629 Q277 632 273 634 L250.600 639.200 Q247.500 640.500 247.600 643.300 L254 655 Q240 661 224.100 654.500 Z"/>
<path class="s" d="M222.500 656.500 Q238 663.500 254.500 657"/>
<!-- 56 -->
<text transform="translate(304.500,612.700) scale(0.9,1)">56</text>
<path class="s" d="M303.600 607.600 L293.400 608.600 L287.300 626"/>
<path class="s" d="M278.100 629 L286 627"/>
<path class="h" d="M285.300 626.500 L297.500 624 L297.500 629 L285.300 631 Z"/>
<path class="k" d="M297.500 622 L302 620 L305.500 621 L305.600 627 L301 628.500 L297.500 628.500 Z"/>
<!-- 57 -->
<text transform="translate(189.500,699.300) scale(0.9,1)">57</text>
<path class="s" d="M205.800 696.700 L217 696.700"/>
<ellipse class="w" cx="235.300" cy="697.300" rx="18.300" ry="7.700" style="stroke-width:2.600"/>
<ellipse class="s" cx="235.300" cy="698" rx="14.500" ry="5"/>
<!-- 58 -->
<text transform="translate(186.500,730) scale(0.9,1)">58</text>
<path class="h" d="M202.700 727.500 L210.300 727.500"/>
<path class="w" d="M210.300 721.800 L210.300 734 A24 10.200 0 0 0 258.300 734 L258.300 721.800 Z" style="stroke-width:2"/>
<ellipse class="w" cx="234.300" cy="721.800" rx="24" ry="10.200" style="stroke-width:2"/>
<ellipse class="s" cx="234.300" cy="722.300" rx="13.200" ry="5.100" style="stroke-width:2"/>
<path class="s" d="M235.300 684 L235.300 727"/>
</g>

<!-- 59.svg -->
<g id="p59">
<text transform="translate(357,679.400) scale(0.9,1)">59</text>
<path class="s" d="M356.500 672.800 L346.400 673.400 L332 680.600"/>
<path class="w" d="M314 671 L328.400 673.400 L331.400 681.200 L332 688.400 L327.200 693.800 L318.800 695.600 Z"/>
<path class="h" d="M314 671 L328.400 673.400 L331.400 681.200 L332 688.400 L327.200 693.800 L318.800 695.600"/>
<ellipse class="w" cx="309.800" cy="685.400" rx="10.600" ry="16.200" transform="rotate(-8 309.800 685.400)" style="stroke-width:2"/>
<circle class="s" cx="309.800" cy="678.800" r="1.600"/><circle class="s" cx="309.200" cy="694.400" r="1.600"/><circle class="s" cx="319.400" cy="679.400" r="1"/><circle class="s" cx="318.200" cy="693.200" r="1"/>
</g>

<!-- 60.svg -->
<g id="p60">
<text transform="translate(505.500,633.600) scale(0.9,1)">60</text>
<path class="s" d="M504.800 627.800 L496.400 626 L488.800 623.600"/>
<path class="w" d="M462 608.500 Q463 604 468.700 603.400 L505.600 599.200 L514 604.300 L514 611.800 L487.100 618.500 L488 635.300 Q487 640 483.800 640.400 L467 640.400 Q461.500 639 461.100 633.600 Z" style="stroke-width:2"/>
<path class="s" d="M474 613 L477 609"/>
<!-- 61 -->
<text transform="translate(494,663) scale(0.9,1)">61</text>
<path class="s" d="M493 656.300 L483.800 655.500 L475.400 652.100"/>
<path class="h" d="M467.500 643 L478.800 643 L478.800 648 L474 648 L474 656.500 L467.500 657 Z M467.500 646.500 L478 646.500 M470 650 L470 655"/>
<!-- 62 -->
<text transform="translate(426,702.500) scale(0.9,1)">62</text>
<path class="h" d="M441.800 697.400 L456.900 697.400"/>
<path class="w" d="M497.200 690.700 L524.900 685.700 L528.300 687.400 L528.300 694.100 L498 700 Z" style="stroke-width:2"/>
<path class="s" d="M525 686 L525 694.500"/>
<path class="w" d="M457.800 694.900 Q458.500 690.500 463.600 689.900 L492.200 688.200 Q497 690 497.200 697.400 Q497 703 493.900 704.200 L476.200 708.400 L476.200 717.600 Q475 722 470.400 722.600 L462 721.800 Q458 720 457.800 715.900 Z" style="stroke-width:2"/>
<path class="s" d="M469 699 L472 694 M492.200 688.200 Q495.500 696 493.900 704.200"/>
</g>

<!-- 63.svg -->
<g id="p63">
<text transform="translate(247.500,430) scale(0.9,1)">63</text>
<path class="s" d="M246.800 423.500 L233.600 423.500 L233.600 439.800"/>
<!-- base -->
<path class="w" d="M233.600 474 L261.300 468 L261.300 481 L240 486 L233.600 484.600 Z"/>
<path class="h" d="M233.600 474 L261.300 468 L261.300 481 L240 486 L233.600 484.600 Z M240 474 L240 486 M236 476 L236 485"/>
<!-- lower dark tube -->
<path class="k" d="M218 470 L225 466 L262 458 L266 462 L262 466 L228 476 L221 477 Z"/>
<path d="M228 471 L258 463" stroke="#fff" stroke-width="1.200" fill="none"/>
<path class="k" d="M218.600 466 L232 464 L245 463.500 L245 471 L233 477 L219 475 Z"/>
<path d="M222 471.500 L230 469.500 M233 473.500 L240 470" stroke="#fff" stroke-width="1.100" fill="none"/>
<!-- mid tube -->
<path class="w" d="M236 458 L264 450.500 Q267.500 453 266.600 458 L240 466.500 Q235 464 236 458 Z"/>
<path class="h" d="M236 458 L264 450.500 Q267.500 453 266.600 458 L240 466.500"/>
<!-- left box -->
<path class="w" d="M219 455.500 L231 453 L231 464 L219 465.500 Z"/>
<path class="h" d="M219 455.500 L231 453 L231 464 L219 465.500 Z M222 458 L227 457 L227 462 L222 463 Z"/>
<!-- top tube -->
<path class="w" d="M225.500 443.500 L232 440 L258 437 Q263 438.500 264 445 L262 449 L236 456.500 Q230 457.500 226 452 Z"/>
<path class="h" d="M225.500 443.500 L232 440 L258 437 Q263 438.500 264 445 L262 449 L236 456.500"/>
<ellipse class="h" cx="228.500" cy="448" rx="3.500" ry="5.500" transform="rotate(-15 228.500 448)"/>
<ellipse class="h" cx="237.500" cy="448.500" rx="3.500" ry="6" transform="rotate(-15 237.500 448.500)"/>
<path class="s" d="M242 442.500 L258 440 M250 439 L252 452"/>
</g>

<!-- 64.svg -->
<g id="p64">
<!-- 65 -->
<text transform="translate(424.500,912.300) scale(0.9,1)">65</text>
<path class="s" d="M423.700 908 L414 908 L414 929.600"/>
<path class="s" d="M407.600 935.500 L412 931.500 L438 925.500 L439 929 L413 935.500 Z"/>
<path class="h" d="M416 932.500 L430 929"/>
<!-- tube -->
<path class="w" d="M445.300 918.800 L501.400 905.800 L502.500 924.200 L446.400 936 Z" style="stroke-width:2"/>
<ellipse class="w" cx="444.500" cy="927.400" rx="4.300" ry="8.500" transform="rotate(-10 444.500 927.400)" style="stroke-width:2"/>
<!-- body -->
<path class="w" d="M517.600 898.300 L529.500 894 L529.500 886.400 L540 886 L551 889.600 L558 892 L560.800 900 L558 910 L551 915 L545 921 L532.700 918.800 L517.600 918.800 Z"/>
<path class="s" d="M532.0 892.5 L532.0 919.5 M534.7 892.5 L534.7 919.5 M537.4 892.5 L537.4 919.5 M540.1 892.5 L540.1 919.5 M542.8 892.5 L542.8 919.5 M545.5 892.5 L545.5 919.5 M548.2 892.5 L548.2 919.5 M550.9 892.5 L550.9 919.5" style="stroke-width:1.500"/>
<path class="s" d="M529.500 894 L540 890 L551 893 M532.700 918.800 L545 921 L551 915" />
<path class="h" d="M517.600 898.300 L529.500 894 M517.600 918.800 L532.700 918.800 M525.200 886.400 L531 884.500 L542 886 L552 890 L558 892 L560.800 900 L558 910 L551 915 M551 889.600 Q556 900 551 915 M531 884.500 L529.500 894"/>
<!-- clamp -->
<path class="w" d="M502 903 L510 901 L517 905 L518 918 L512 922 L503 920 Z" style="stroke-width:2.200"/>
<circle class="w" cx="505.800" cy="899.400" r="4.500" style="stroke-width:2.400"/><circle class="s" cx="505.800" cy="899.400" r="1.600"/>
<circle class="w" cx="509" cy="924.500" r="4.300" style="stroke-width:2.400"/><circle class="s" cx="509" cy="924.500" r="1.500"/>
<path class="h" d="M510 903 Q514 911 511 921"/>
<text transform="translate(512,944.700) scale(0.9,1)">64</text>
<path class="s" d="M528.400 935 L532 934 L532 921"/>
</g>

<!-- 66.svg -->
<g id="p66">
<text transform="translate(610.500,923.200) scale(0.9,1)">66</text>
<path class="s" d="M609.200 918.600 L599 917.500 L589.900 908.400"/>
<!-- right tube -->
<path class="w" d="M624 874.200 L654.800 867.300 Q660.500 868 660.500 873.500 Q660.500 879 659.400 879.900 L624 889 Z" style="stroke-width:2"/>
<!-- body -->
<path class="w" d="M572.800 877.600 L610.400 874.200 L611.500 898 L577.300 911.800 Z" style="stroke-width:2"/>
<path class="s" d="M584.0 875.8 L584.0 910.5 M586.7 875.5 L586.7 909.4 M589.4 875.3 L589.4 908.3 M592.1 875.1 L592.1 907.2 M594.8 874.8 L594.8 906.1 M597.5 874.6 L597.5 905.0 M600.2 874.3 L600.2 903.9 M602.9 874.1 L602.9 902.8" style="stroke-width:1.5"/>
<path class="s" d="M584 884 L604 882.500 M584 891 L604 889.500 M584 898 L604 895.500" style="stroke-width:1.300"/>
<ellipse class="w" cx="574" cy="894.700" rx="9" ry="17.300" transform="rotate(-12 574 894.700)" style="stroke-width:2.400"/>
<!-- clamp -->
<path class="w" d="M611.500 872 L621 871 L624 876 L624 892 L620 896 L612 896 Z" style="stroke-width:2.200"/>
<circle class="w" cx="616" cy="869.600" r="4.700" style="stroke-width:2.400"/><circle class="s" cx="616" cy="869.600" r="1.600"/>
<circle class="w" cx="618.400" cy="897.500" r="4.500" style="stroke-width:2.400"/><circle class="s" cx="618.400" cy="897.500" r="1.500"/>
<path class="h" d="M618 874 Q622 884 619 893"/>
<!-- 67 -->
<text transform="translate(667.300,891.300) scale(0.9,1)" style="font-size:14.8px">67</text>
<path class="s" d="M683.300 882.800 L688.500 882.200 L687.800 864"/>
<path class="s" d="M664 867.500 L681 864 L681.500 867.500 L665 871 Z M681 865.500 L685 864.500"/>
<path class="h" d="M684.500 863 L697 860.500 L698 863.500 L685 866.500 Z"/>
<text transform="translate(719.500,930.500) rotate(-90) scale(0.86,1)" style="font-size:14px">263566</text>
</g>

<!-- 68.svg -->
<g id="p68">
<!-- 72 left -->
<text transform="translate(489,342.300) scale(0.9,1)" font-style="italic">72</text>
<path class="s" d="M488 337.200 L478.700 338.200 L467.500 346.400"/>
<path class="s" d="M456 344 L449 341.500 Q444.500 343 445.500 347 Q447 350.500 452 351 L457 352"/>
<ellipse class="k" cx="461" cy="350" rx="3.500" ry="6.500" transform="rotate(-25 461 350)"/>
<ellipse class="h" cx="465" cy="352" rx="3.300" ry="6" transform="rotate(-25 465 352)"/>
<path class="s" d="M469.600 353.500 L483.800 360.700"/>
<!-- 69 -->
<text transform="translate(522.500,359.700) scale(0.9,1)">69</text>
<path class="s" d="M521.500 353.500 L512.400 355.600 L504.200 363.700"/>
<path class="h" d="M483 358 L489 357.500 L499 362.500 L497 366 L488 363.500 Z M491 359 L490 363.500"/>
<path class="h" d="M499 363 L523.600 374 M500 365.500 L518 373.500"/>
<path class="s" d="M523.600 374 L546 383.500"/>
<!-- 68 -->
<text transform="translate(578.500,375) scale(0.9,1)">68</text>
<path class="s" d="M577.600 368.800 L567.400 368.800 L562.300 380"/>
<path class="w" d="M542.700 386.800 L554.300 381.600 L567 383 L604.600 393.200 L604.600 404.800 L586.600 413.800 L562 408.700 L562 401 L542.700 395.800 Z"/>
<path class="k" d="M563.400 392 L573.700 388 L603.300 394.500 L589 399.600 Z"/>
<path d="M570 391 L596 396.500" stroke="#fff" stroke-width="1" fill="none"/>
<path class="h" d="M542.700 386.800 L562 392 L562 401 M542.700 386.800 L542.700 395.800 L562 401 M589 399.600 L589 413 M589 399.600 L604.600 393.200"/>
<path class="k" d="M563.400 401 L569 402 L569 410 L563.400 409 Z M571 402.500 L577 403.500 L577 411.500 L571 410.500 Z M579.500 404 L585.300 405 L585.300 413 L579.500 412 Z"/>
<circle class="s" cx="595.500" cy="403.500" r="2.200"/><circle class="s" cx="601" cy="401.500" r="2"/>
<rect class="s" x="546" y="389.500" width="3" height="3.500"/>
</g>

<!-- 70.svg -->
<g id="p70">
<text transform="translate(647,401) scale(0.9,1)">70</text>
<path class="s" d="M645.900 394.500 L635.500 395 L626.500 404.800"/>
<path class="w" d="M607.200 412.500 L625.200 404.800 L638 406 L654.900 416.400 L654.900 425.400 L636.800 434.400 L621.400 430.600 L607.200 422.800 Z"/>
<path class="h" d="M607.200 412.500 L621.400 418.500 L621.400 430.600 M607.200 412.500 L607.200 422.800 L621.400 430.600 M621.400 418.500 L638 412 L654.900 416.400 M625.200 404.800 L638 412 M624 419 L624 431 M611 416 L611 423.500 L618 426.500 M636.800 421 L636.800 434.400 M621.400 418.500 L636.800 421 L654.900 416.400"/>
<circle class="s" cx="643.300" cy="425.400" r="2.400"/><circle class="s" cx="650.200" cy="422.800" r="2.200"/>
<path class="s" d="M628 408 L634 408.500 M654.900 422.800 L668 428"/>
<!-- 71 -->
<text transform="translate(705,424) scale(0.9,1)">71</text>
<path class="s" d="M703.900 418.500 L693.500 419 L692.300 433"/>
<path class="h" d="M666.500 427.500 L690 436.500 M672 431.500 L686 437"/>
<path class="s" d="M690 436.500 L697 439.500 M708 443.500 L716 447"/>
<ellipse class="h" cx="700" cy="441" rx="2.300" ry="5" transform="rotate(-20 700 441)"/><ellipse class="h" cx="705" cy="443" rx="2.300" ry="5" transform="rotate(-20 705 443)"/>
<!-- 72 right -->
<text transform="translate(735,441) scale(0.9,1)" font-style="italic">72</text>
<path class="s" d="M733.500 436.500 L724.500 437 L723.200 444.800"/>
<ellipse class="k" cx="720.500" cy="451" rx="3.500" ry="6.500" transform="rotate(-20 720.500 451)"/>
<ellipse class="h" cx="724.500" cy="452.500" rx="3.300" ry="6.200" transform="rotate(-20 724.500 452.500)"/>
<path class="h" d="M727 447.500 L738 451 L740 456 L737 460 L726 458.500"/>
<path class="k" d="M735 451 L739 452 L740 458 L736 459.500 Z"/>
</g>

<!-- 75.svg -->
<g id="p75">
<text transform="translate(643,639.400) scale(0.9,1)" style="font-size:14.8px">75</text>
<path class="h" d="M642 634.300 L631 634.300 L631 643.600"/>
<path class="w" d="M617.700 647.800 Q618.500 645 621.900 644.400 L632 644.400 L654.600 652.800 L668.900 653.600 L668.900 663.700 L657 663.700 L638.700 668.800 L637 673 L619.400 673.800 Q615 673 614.300 670.400 L615.200 664.600 Z" style="stroke-width:2"/>
<path class="k" d="M668 650.300 L673.500 650.300 L674 666.200 L668 666.200 Z"/>
<path class="h" d="M615.500 667 Q616.500 671 620.500 671.500 L637.500 670.500"/>
<path class="s" d="M625.500 650.500 L627.500 654"/>
<!-- 73 -->
<text transform="translate(643,758.600) scale(0.9,1)" style="font-size:14.8px">73</text>
<path class="s" d="M642 754.400 L633.600 754.400 L624.400 743.500"/>
<path class="k" d="M606.800 715 L632 715 L645.400 719 L648.800 725.800 L645.400 732.500 L632 739.300 L611.800 748.500 Z"/>
<path d="M618 722 L638 720 M626 717.500 L634 723 L634 736 M618 726 L618 742 M624 724.500 L624 741 M629 723 L629 738 M639 721 L640 732 M643 722 L643.500 730 M612 733 L630 729.500 M612 739 L630 735" stroke="#fff" stroke-width="0.900" fill="none"/>
<path d="M626 717.500 L634 717 L636 721 L628 722 Z" fill="#fff"/>
<ellipse class="w" cx="607.600" cy="731.700" rx="8.800" ry="16" transform="rotate(-12 607.600 731.700)" style="stroke-width:2.400"/>
<ellipse cx="608.500" cy="732" rx="5.500" ry="12" transform="rotate(-12 608.500 732)" fill="none" stroke="#666" stroke-width="0.800" stroke-dasharray="1 1.300"/>
<path class="h" d="M601 743 Q606 749.500 612 748.500"/>
<!-- 74 -->
<text transform="translate(665.500,739.300) scale(0.9,1)" style="font-size:15.4px">74</text>
<path class="s" d="M680.600 731.700 L686 731.200 L686 715"/>
<path class="s" d="M660 716.500 L664 713.500 L679 711.500 L679 716.500 L664 718.500 Z M679 713.500 L683 712.500"/>
<path class="h" d="M683 710 L683 716.500 M685.500 709.500 L685.500 716"/>
<path class="h" d="M687.400 710.500 L697 708.500 L698 712.500 L687.400 714.500 Z"/>
</g>

<!-- 76.svg -->
<g id="p76">
<text transform="translate(272.500,338.700) scale(0.9,1)" style="font-size:14px">76</text>
<text transform="translate(289,338.700) scale(0.9,1)" style="font-size:14px">77</text>
<path class="h" d="M272.500 332.200 L261 332.200 L258 347.300"/>
<path class="s" d="M301.300 333.700 L309.200 334.400 L315 351"/>
<path class="w" d="M258 347.500 Q272 346 279 355 Q285 364 283.300 378 Q281 392 270 396 L252 396 Z"/>
<path class="h" d="M262 348 Q278 352 278.500 372 Q278 390 266 396 M258 348.500 Q273 354 273.500 372 Q273 390 260 396.500 M268 348.500 Q283 356 282.500 374"/>
<ellipse class="w" cx="252.400" cy="372" rx="19" ry="24.300" transform="rotate(-8 252.400 372)" style="stroke-width:2.200"/>
<g class="s"><circle cx="248" cy="355.500" r="2"/><circle cx="237.500" cy="370.500" r="2"/><circle cx="249" cy="368" r="1.800"/><circle cx="260" cy="363" r="2"/><circle cx="264" cy="370" r="2"/><circle cx="256" cy="372" r="1.800"/><circle cx="247" cy="375" r="1.800"/><circle cx="252" cy="379" r="1.800"/><circle cx="245" cy="387" r="2"/><circle cx="254" cy="388" r="2"/><circle cx="259" cy="386" r="1.800"/><circle cx="253" cy="392" r="1.800"/><circle cx="263" cy="376" r="1.600"/></g>
<path class="s" d="M243 352 L243 358 L247 358 M246 362 L248 366 M248 372 L254 376 M250 383 L256 383"/>
<!-- 78 -->
<text transform="translate(313.500,360.300) scale(0.9,1)" style="font-size:14.5px">78</text>
<path class="h" d="M294.800 361 L313 356.500 L313.500 361 L296 364.500 Z"/>
<path class="h" d="M313 357 L329 354 M313 361 L329 359"/>
</g>

<!-- 79.svg -->
<g id="p79">
<text transform="translate(425.500,275.300) scale(0.9,1)" style="font-size:15.4px">79</text>
<path class="s" d="M425 270 L416.200 270 L411 278"/>
<path class="w" d="M353 276.700 L356.900 268.700 L364.800 264.800 L415 276.700 L416 284 L424 291 L426.800 296.500 L418 300 L411 300.400 L359.500 284.600 Z"/>
<path class="h" d="M356.900 268.700 L364.800 264.800 L415 276.700 M359.500 272.500 L411 287 M359.500 284.600 L411 300.400 M359.500 272.500 L359.500 284.600 M353 276.700 L359.500 284.600 M411 287 L411 300.400 M356.900 268.700 L359.500 272.500"/>
<path class="h" d="M364 277 L408 290 M364 281.500 L408 295"/>
<path class="s" d="M370 277 L370 285 M377 279 L377 287 M384 281 L384 289 M391 283 L391 291.500 M398 285 L398 293.500 M405 287 L405 296 M411 287 L416 284 M415 276.700 L415 284 M411 300.400 L424 294 M418 289 L424 291 M420 296 L426 296.500"/>
</g>

<!-- 80.svg -->
<g id="p80">
<text transform="translate(404,359) scale(0.9,1)">80</text>
<path class="s" d="M403.700 353.900 L391.700 353.900 L386.700 365.800"/>
<path class="w" d="M338.800 376.500 L341.400 365.200 L351.400 362 L351.400 355 L361.500 356.400 L384 366.500 L399.300 372.800 L397.400 413 L379 418.500 L357.700 409.300 L338.800 411.800 Z"/>
<path class="h" d="M338.800 376.500 L360 374 L379 377.800 L398 372.800 M338.800 376.500 L338.800 411.800 L357.700 409.300 L379 418.500 L397.400 413 L397.400 373 M379 377.800 L379 418.500"/>
<path class="s" d="M359 374 L359 410 M361.500 374 L361.500 410.500 M394.500 375 L394.500 413"/>
<path class="k" d="M351.400 355 L361.500 356.400 L373 362 L366 363.500 L352 358.500 Z"/>
<path class="h" d="M341.400 365.200 L361.500 372.800 M343 369 L356 374 M352 358.500 L376.600 376.500 L384 371 M361.500 356.400 L384 366.500 L399.300 372.800 M342 365 L356 362 L378 372 M366 363.500 L386 372"/>
<circle class="h" cx="336.800" cy="385.400" r="2.500"/><circle class="k" cx="336" cy="404.500" r="3.300"/>
<g class="h"><path d="M383 381.500 L387 380.500 L387 388 L383 389 Z M389.500 380 L393 379 L393 386.500 L389.500 387.500 Z M383 393 L387 392 L387 399.500 L383 400.500 Z M389.500 391.500 L393 390.500 L393 398 L389.500 399 Z M383 404.500 L387 403.500 L387 411 L383 412 Z M389.500 403 L393 402 L393 409.500 L389.500 410.500 Z"/></g>
</g>

<!-- 81.svg -->
<g id="p81">
<text transform="translate(142,524.400) scale(0.9,1)">81</text>
<path class="s" d="M141.200 518.400 L128.300 519 L116.400 537.400"/>
<path class="w" d="M79.700 522.300 L102.400 513.600 L107.800 516.900 L113.200 533 L132.600 537.400 L138 546 L136.900 566.500 L111 575 L79.700 567.600 Z"/>
<path class="h" d="M79.700 522.300 L102.400 513.600 L107.800 516.900 L113.200 533 L132.600 537.400 L138 546 L136.900 566.500 L111 575 L79.700 567.600 Z M79.700 522.300 L86.200 543.800 L111 550.300 L111 575 M111 550.300 L138 546 M86.200 543.800 L79.700 548"/>
<path class="k" d="M83.500 524 L101.500 517.500 L104 522 L106 532 L100 535 L90 538 Z"/>
<path d="M87 527 L99 522.500 M89 532 L101 527.500" stroke="#fff" stroke-width="1" fill="none"/>
<path class="h" d="M90 540 L108 535.500 L128 540 M96 543.500 L113.200 539 L126 542 M102 546 L118 542.500 M107.800 516.900 L104 520"/>
<path class="k" d="M87.300 551.400 L108.900 556.500 L108.900 560.500 L87.300 555.500 Z M87.300 562.200 L108.900 567.300 L108.900 571.300 L87.300 566.300 Z"/>
<path class="h" d="M130.500 549.500 L133.700 549 L133.700 560 L130.500 560.500 Z"/>
</g>

<!-- 82.svg -->
<g id="p82">
<text transform="translate(227.500,525.500) scale(0.9,1)">82</text>
<path class="s" d="M226.500 520 L213.500 520.500 L203.800 533"/>
<path class="w" d="M173.600 536.300 L199.500 527.700 L233 536.300 L231.900 563.300 L204.900 572 L173.600 561 Z"/>
<path class="h" d="M173.600 536.300 L199.500 527.700 L233 536.300 L231.900 563.300 L204.900 572 L173.600 561 Z M173.600 536.300 L204.900 545 L204.900 572 M204.900 545 L233 536.300"/>
<path class="h" d="M180 534.500 L209 542.500 M187 532 L215 540.500 M194 529.500 L222 538.500 M186 538.500 L205 530 M196 541.500 L217 533 M212 543 L212 569.500 M218 541 L218 567 M224 539 L224 565 M212 555 L224 551 M218 556 L218 567"/>
<path class="s" d="M208 551 L208 569 M229 538 L229 563 M176 540 L176 546"/>
</g>

<!-- 83.svg -->
<g id="p83">
<text transform="translate(225,591.300) scale(0.9,1)">83</text>
<path class="s" d="M224 586.200 L215 587.200 L210.200 595.400"/>
<path class="w" d="M176.200 603.500 L205.800 595.400 L243.500 604.600 L243.500 615.800 L216 626 L176.200 612.700 Z"/>
<path class="h" d="M176.200 603.500 L205.800 595.400 L243.500 604.600 L243.500 615.800 L216 626 L176.200 612.700 Z M176.200 603.500 L219 615.800 L219 625 M219 615.800 L243.500 604.600"/>
<path class="k" d="M237.500 607.500 L243.500 604.600 L243.500 615.800 L237.500 618 Z"/>
<path class="h" d="M190 602 L200 599.500 M196 605.500 L208 602 L216 604 M204 608 L214 605.500 M212 611 L226 607 M220 604 L230 606.500 M208 599 L218 601.500 M186 605 L194 607 M208 612 L212 620 M200 609 L206 611"/>
<path class="s" d="M180 608 L180 613 M213 618 L213 624"/>
</g>

<!-- 84.svg -->
<g id="p84">
<text transform="translate(496.500,262.200) scale(0.9,1)" style="font-size:15.4px">84</text>
<path class="s" d="M495.400 256.900 L483.500 257.700 L481 264.800"/>
<path class="w" d="M453.200 260.800 L462.400 259.500 L527 282 L528.400 292.500 L524.400 301.700 L511.200 297.800 L454.500 274 Z"/>
<path class="k" d="M454.500 264.500 L514 287.500 L513 297.500 L454.500 274 Z"/>
<path d="M458 269.500 L510 291.500" stroke="#fff" stroke-width="1.300" stroke-dasharray="3 2.500" fill="none"/>
<path class="h" d="M453.200 260.800 L462.400 259.500 L527 282 M453.200 260.800 L454.500 274 M514 287.500 L527 282 L528.400 292.500 L517 298 M514 292 L526 288 M517 298 L524.400 301.700 L528.400 292.500 M455 262 L460 263"/>
<!-- 85 -->
<text transform="translate(554.500,262.200) scale(0.9,1)" style="font-size:15.4px">85</text>
<path class="s" d="M553.400 256.900 L539 256.900 L535 270"/>
<path class="h" d="M524.400 275.300 L541 270 M528 276 L540 272.500"/>
<path class="k" d="M537 269 L549 264 L550.500 268.500 L539 273.500 Z"/>
</g>

<!-- 86.svg -->
<g id="p86">
<text transform="translate(702.500,228.700) scale(0.9,1)">86</text>
<path class="s" d="M702 221.700 L696 222.500 L684.200 233.400"/>
<path class="w" d="M651.400 242.700 L665 237 L678 233.400 L689.600 238 L693.500 248.200 L685 252.900 L680 257 L678 263 L683 270 L687.300 275.500 L693 278 L699.800 278.600 L701.300 283.300 L693.500 292.600 L686.500 296.500 L686.500 307.400 L674.800 309.800 L670 306.600 L670 300.400 L662.400 296.500 L654.600 284.800 L654.600 272.400 L650 263 L650 247.400 Z"/>
<path class="k" d="M613 254 Q612 249.500 618 248.500 L627 247 L651 240.500 L652 243.500 L629 252 Q623 258.500 617 257.500 Q613.500 257 613 254 Z"/>
<path class="h" d="M650 242.500 L665 237 L684 232"/>
<path class="h" d="M679 239.500 L687 237.500 L691 247 L683 250 Z M683 250 L692 248.500 M681.500 241 L685 247"/>
<path class="h" d="M657.700 269.200 L674.800 266"/>
<path class="s" d="M659 266 Q656 256 662 252 L668 250 Q672 256 674 264 M662 252 L663 262 M668 240 Q674 250 670 252 M674.800 266 L680 284 L686 288 M657 272 Q664 276 666 284 L672 288 L680 284 M672 288 L678 292 L693.500 284 M678 292 L678 308 M686.500 296.500 L690 288 M670 300.400 L686.500 296.500 M693 278 L696 285"/>
</g>

<!-- 87.svg -->
<g id="p87">
<path class="w" d="M623 145 L655.600 138.400 L710.300 135.500 L707.400 151 L712.200 151.900 L692 153.800 L686 160 L657.600 159.500 L623 162.400 Q617.500 160 618.200 153.800 Q618.500 147 623 145 Z"/>
<path class="h" d="M623 145 L655.600 138.400 L710.300 135.500 M623 162.400 L657.600 159.500 M710.300 135.500 L709 143 M692 153.300 L712.200 151.900"/>
<path class="s" d="M672 138 Q670 150 676 158 M675 138 Q673 148 680 156 M688 137 Q686 148 692 153.500 M655.600 138.400 Q653 150 658 159"/>
<path class="k" d="M656 160.500 L686.300 159 L686.300 167 L658 169.500 Z"/>
<path d="M660 164 L683 162.500" stroke="#fff" stroke-width="1" fill="none"/>
<path class="w" d="M640 177 L686 168 L716 164.300 L717 166.500 L728.500 168.200 L727.600 172 L690 181.600 L645 188 Q636.500 187 635.500 181 Q636 178 640 177 Z"/>
<path class="h" d="M640 177 L686 168 L716 164.300 M645 188 L690 181.600 L727.600 172 M636 180 Q637 187 645 188"/>
<path class="s" d="M648 182.600 L715 171.500 M686 168 L728 168.500"/>
<path class="h" d="M650 184.500 L680 180"/>
<text transform="translate(699.500,199) scale(0.9,1)">87</text>
<path class="s" d="M690 182.600 L692 194 L699.800 194"/>
</g>

<!-- zz_specks.svg -->
<g id="specks" fill="#111">
<rect x="80" y="17" width="4" height="1.200"/>
<rect x="14" y="1018" width="2" height="4"/><rect x="15" y="1025" width="2.500" height="5"/><rect x="13" y="1023" width="4" height="1"/>
<rect x="91" y="1013" width="1.500" height="2"/><rect x="472" y="1060" width="1.200" height="1.200"/>
<rect x="238" y="695" width="1.500" height="1.500"/><rect x="441" y="343" width="2" height="2"/><rect x="742" y="350" width="2" height="1.500"/><rect x="596" y="447" width="1.500" height="1.500"/>
<rect x="620" y="96" width="1.500" height="1.500"/><rect x="258" y="86" width="1.500" height="2"/><rect x="212" y="268" width="1.500" height="1.500"/>
<rect x="781" y="577" width="1.500" height="1.500"/><rect x="594" y="644" width="1.500" height="1.500"/><rect x="474" y="1060" width="1" height="1"/>
</g>

</g>
<defs><filter id="bl" x="0" y="0" width="834" height="1100" filterUnits="userSpaceOnUse" color-interpolation-filters="sRGB">
<feGaussianBlur in="SourceGraphic" stdDeviation="0.75" result="b"/>
<feTurbulence type="fractalNoise" baseFrequency="0.85" numOctaves="1" seed="7" result="n"/>
<feColorMatrix in="n" type="matrix" values="1 0 0 0 0  1 0 0 0 0  1 0 0 0 0  0 0 0 0 1" result="n2"/>
<feComposite operator="arithmetic" in="b" in2="n2" k1="0" k2="1" k3="0.92" k4="-0.52" result="m"/>
<feComponentTransfer in="m"><feFuncR type="discrete" tableValues="0.05 0.05 0.05 1 1"/><feFuncG type="discrete" tableValues="0.05 0.05 0.05 1 1"/><feFuncB type="discrete" tableValues="0.05 0.05 0.05 1 1"/></feComponentTransfer>
</filter></defs>
</svg>
</body></html>
